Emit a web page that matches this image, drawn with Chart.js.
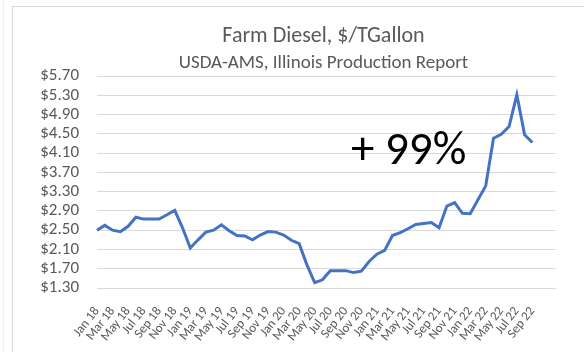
<!DOCTYPE html>
<html>
<head>
<meta charset="utf-8">
<style>
  html, body { margin: 0; padding: 0; background: #fff; }
  .chart-container { position: relative; width: 584px; height: 352px; }
</style>
</head>
<body>
<div class="chart-container">
  <canvas id="dieselChart"></canvas>
</div>

<script src="https://cdn.jsdelivr.net/npm/chart.js"></script>
<script>
// monthly categories, Jan 18 .. Sep 22, then three empty slots at the end of the axis
const months = [
  'Jan 18', 'Feb 18', 'Mar 18', 'Apr 18', 'May 18', 'Jun 18', 'Jul 18', 'Aug 18', 'Sep 18', 'Oct 18', 'Nov 18', 'Dec 18',
  'Jan 19', 'Feb 19', 'Mar 19', 'Apr 19', 'May 19', 'Jun 19', 'Jul 19', 'Aug 19', 'Sep 19', 'Oct 19', 'Nov 19', 'Dec 19',
  'Jan 20', 'Feb 20', 'Mar 20', 'Apr 20', 'May 20', 'Jun 20', 'Jul 20', 'Aug 20', 'Sep 20', 'Oct 20', 'Nov 20', 'Dec 20',
  'Jan 21', 'Feb 21', 'Mar 21', 'Apr 21', 'May 21', 'Jun 21', 'Jul 21', 'Aug 21', 'Sep 21', 'Oct 21', 'Nov 21', 'Dec 21',
  'Jan 22', 'Feb 22', 'Mar 22', 'Apr 22', 'May 22', 'Jun 22', 'Jul 22', 'Aug 22', 'Sep 22', '', '', ''
];

// farm diesel price, $ per gallon
const dieselPrice = [
  2.50, 2.60, 2.50, 2.47, 2.58, 2.77, 2.73, 2.73, 2.73, 2.82, 2.91, 2.55,
  2.13, 2.30, 2.46, 2.50, 2.61, 2.49, 2.39, 2.38, 2.30, 2.40, 2.47, 2.46,
  2.40, 2.29, 2.22, 1.78, 1.41, 1.47, 1.66, 1.66, 1.66, 1.62, 1.65, 1.85,
  2.00, 2.08, 2.39, 2.45, 2.53, 2.62, 2.64, 2.66, 2.55, 3.00, 3.07, 2.85,
  2.84, 3.13, 3.42, 4.41, 4.49, 4.65, 5.31, 4.48, 4.32
];

const yMin = 1.30;
const yMax = 5.70;
const yStep = 0.40;

const titleText = 'Farm Diesel, $/TGallon';
const subtitleText = 'USDA-AMS, Illinois Production Report';
const changeText = '+ 99%';

const fontFamily = 'Carlito, Lato, sans-serif';
const grey = '#595959';

// border, titles and the big change label
const decorations = {
  id: 'decorations',
  beforeDraw(chart) {
    const c = chart.ctx;
    c.save();
    c.fillStyle = '#ffffff';
    c.fillRect(0, 0, chart.width, chart.height);
    c.strokeStyle = '#eeeeee';
    c.lineWidth = 1;
    c.beginPath();
    c.moveTo(3.5, 0);
    c.lineTo(3.5, chart.height);
    c.stroke();
    c.strokeStyle = '#d9d9d9';
    c.strokeRect(12.5, 6.5, chart.width, chart.height);
    c.restore();
  },
  afterDraw(chart) {
    const c = chart.ctx;
    c.save();
    c.textAlign = 'center';
    c.textBaseline = 'alphabetic';
    c.fillStyle = grey;
    c.font = '22px ' + fontFamily;
    c.fillText(titleText, 323.5, 42);
    c.font = '19px ' + fontFamily;
    c.fillText(subtitleText, 323.5, 68);
    c.textAlign = 'left';
    c.fillStyle = '#000000';
    c.font = '47px ' + fontFamily;
    c.fillText(changeText, 351, 164);
    c.restore();
  }
};

document.addEventListener('DOMContentLoaded', function() {
  const ctx = document.getElementById('dieselChart').getContext('2d');

  new Chart(ctx, {
    type: 'line',
    data: {
      labels: months,
      datasets: [{
        label: 'Farm Diesel',
        data: dieselPrice,
        borderColor: '#4472C4',
        borderWidth: 3,
        pointRadius: 0,
        tension: 0,
        fill: false
      }]
    },
    options: {
      responsive: true,
      maintainAspectRatio: false,
      animation: false,
      layout: {
        padding: { top: 76, right: 7, bottom: 0, left: 0 }
      },
      scales: {
        x: {
          offset: false,
          grid: { display: false, drawTicks: false },
          border: { display: true, color: '#d9d9d9' },
          afterFit(scale) { scale.height = 64; },
          ticks: {
            autoSkip: false,
            minRotation: 52,
            maxRotation: 52,
            padding: 16,
            color: grey,
            font: { family: fontFamily, size: 13 },
            callback: function(value, index) {
              return index % 2 === 0 ? months[index] : '';
            }
          }
        },
        y: {
          min: yMin,
          max: yMax,
          grid: { color: '#d9d9d9', drawTicks: false },
          border: { display: false },
          afterFit(scale) { scale.width = 97; },
          ticks: {
            autoSkip: false,
            stepSize: yStep,
            padding: 18,
            color: grey,
            font: { family: fontFamily, size: 17 },
            callback: function(value) {
              return '$' + value.toFixed(2);
            }
          }
        }
      },
      plugins: {
        legend: { display: false },
        tooltip: { enabled: false }
      }
    },
    plugins: [decorations]
  });
});
</script>
</body>
</html>
